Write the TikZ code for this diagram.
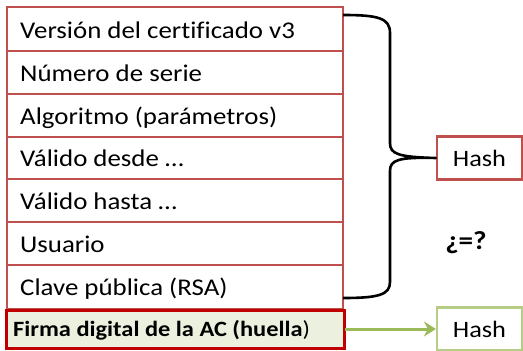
\documentclass[tikz,border=0pt]{standalone}
\usepackage{fontspec}
\usetikzlibrary{arrows.meta}
\setmainfont{Carlito}[FakeStretch=1.12, Ligatures=NoCommon]
\definecolor{rowred}{HTML}{C0504D}
\definecolor{darkred}{HTML}{C00000}
\definecolor{ogreen}{HTML}{9BBB59}
\definecolor{lgreen}{HTML}{EBF1DE}
\definecolor{pgreen}{HTML}{B5CD85}
\tikzset{
  rowbox/.style={draw=rowred, line width=2.2pt, fill=white},
  rowtext/.style={anchor=base west, inner sep=0pt, font=\fontsize{24}{28}\selectfont},
  hashbox/.style={draw=rowred, line width=2.2pt, fill=white, minimum width=85pt, minimum height=43pt, inner sep=0pt, font=\fontsize{23.5}{28}\selectfont},
}
\begin{document}
\begin{tikzpicture}[x=1pt,y=-1pt]
\useasboundingbox (0,0) rectangle (523,351);
% rows
\foreach \t/\b/\name in {7/51/r1,51/94/r2,94/137/r3,137/179/r4,179/222/r5,222/265/r6,265/309/r7}{
  \draw[rowbox] (7,\t) rectangle (343,\b);
}
\node[rowtext] (t1) at (20,38) {Versión del certificado v3};
\node[rowtext] (t2) at (20,81) {Número de serie};
\node[rowtext] (t3) at (20,124) {Algoritmo (parámetros)};
\node[rowtext] (t4) at (20,166.5) {Válido desde …};
\node[rowtext] (t5) at (20,209) {Válido hasta …};
\node[rowtext] (t6) at (20,252) {Usuario};
\node[rowtext] (t7) at (20,295) {Clave pública (RSA)};
% firma
\draw[draw=darkred, fill=lgreen, line width=3pt] (6,310) rectangle (344,348);
\node[coordinate] (fr) at (345,329) {};
\node[anchor=base west, inner sep=0pt, font=\fontsize{21.8}{25}\selectfont] (t8) at (13,336.5) {\textbf{Firma digital de la AC (huella})};
% hash boxes
\node[hashbox] (h1) at (479.5,158) {Hash};
\node[hashbox, draw=pgreen] (h2) at (479.5,329) {Hash};
% brace
\draw[line width=2.6pt, line join=round]
  (343,15) .. controls (378,15) and (390,18) .. (390,33) -- (390,143)
  .. controls (390,154) and (398,157) .. (h1.west)
  .. controls (398,157) and (390,160) .. (390,171) -- (390,282)
  .. controls (390,295) and (378,298) .. (343,298);
% arrow
\draw[draw=ogreen, line width=3pt, -{Stealth[length=12pt,width=15pt,inset=4pt]}] (fr) -- (h2.west);
% question
\node[font=\fontsize{26}{30}\selectfont\bfseries] (q) at (466,243) {¿=?};
\end{tikzpicture}
\end{document}
